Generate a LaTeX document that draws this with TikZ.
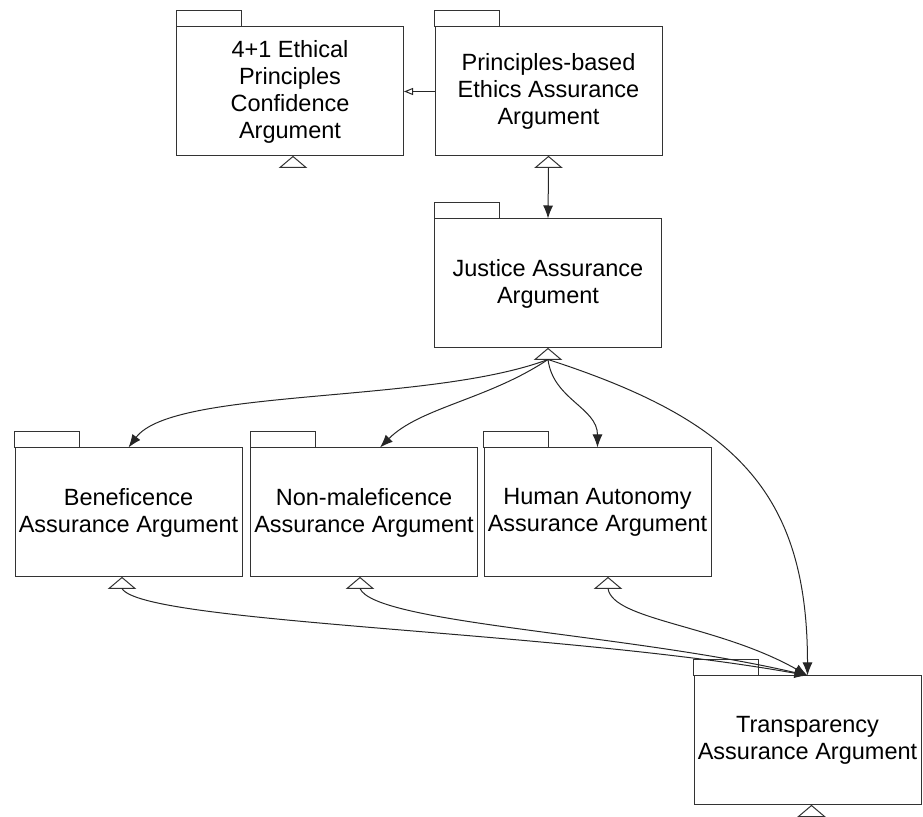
\documentclass[tikz,border=0pt]{standalone}
\usepackage{fontspec}
\setmainfont{Liberation Sans}
\usepackage{tikz}
\usetikzlibrary{arrows.meta, calc, positioning}

\begin{document}
\begin{tikzpicture}[
    x=1pt, y=1pt,
    >={Latex[length=13pt, width=10pt]},
    package/.style={rectangle, draw=black!80, line width=1pt, fill=white, minimum width=227pt, minimum height=129pt, inner sep=0pt, align=center, font=\fontsize{23.5}{27}\selectfont},
    tab/.style={draw=black!80, line width=1pt},
    foot/.style={draw=black!80, line width=1pt, fill=white},
    arrow/.style={->, draw=black!85, line width=1pt},
    openarrow/.style={-{Triangle[open, length=9pt, width=7pt]}, draw=black!85, line width=1pt}
]
\useasboundingbox (0,0) rectangle (923,816);

% 论证包
\node[package] (ethics) at (290,724.5) {4+1 Ethical\\Principles\\Confidence\\Argument};
\node[package] (principles) at (548.5,724.5) {Principles-based\\Ethics Assurance\\Argument};
\node[package] (justice) at (548,532.5) {Justice Assurance\\Argument};
\node[package] (benef) at (128.5,303.5) {Beneficence\\Assurance Argument};
\node[package] (nonmal) at (364,303.5) {Non-maleficence\\Assurance Argument};
\node[package] (autonomy) at (597.5,303.5) {Human Autonomy\\Assurance Argument};
\node[package] (transp) at (807.5,75.5) {Transparency\\Assurance Argument};

% 标签页
\foreach \n in {ethics, principles, justice, benef, nonmal, autonomy, transp}
    \draw[tab] (\n.north west) rectangle ++(65,16);

% 底部三角
\foreach \n/\dx in {ethics/3, principles/0, justice/0, benef/-6.5, nonmal/-4, autonomy/10.5, transp/4} {
    \draw[foot] ([xshift=\dx pt]\n.south) -- ++(13,-11) -- ++(-26,0) -- cycle;
    \coordinate (\n-foot) at ([xshift=\dx pt, yshift=-11pt]\n.south);
}

% 连接线
\draw[openarrow] (principles.west) -- (ethics.east);
\draw[arrow] (principles-foot) -- (justice.north);

\draw[arrow] (justice-foot) .. controls +(-120,-45) and +(45,60) .. (benef.north);
\draw[arrow] (justice-foot) .. controls +(-60,-40) and +(40,40) .. ([xshift=16pt]nonmal.north);
\draw[arrow] (justice-foot) .. controls +(5,-40) and +(0,40) .. (autonomy.north);
\draw[arrow] (justice-foot) .. controls +(185,-60) and +(0,185) .. (transp.north);

\draw[arrow] (benef-foot) .. controls +(20,-35) and +(-250,45) .. (transp.north);
\draw[arrow] (nonmal-foot) .. controls +(15,-35) and +(-180,42) .. (transp.north);
\draw[arrow] (autonomy-foot) .. controls +(5,-32) and +(-90,51) .. (transp.north);

\end{tikzpicture}
\end{document}
